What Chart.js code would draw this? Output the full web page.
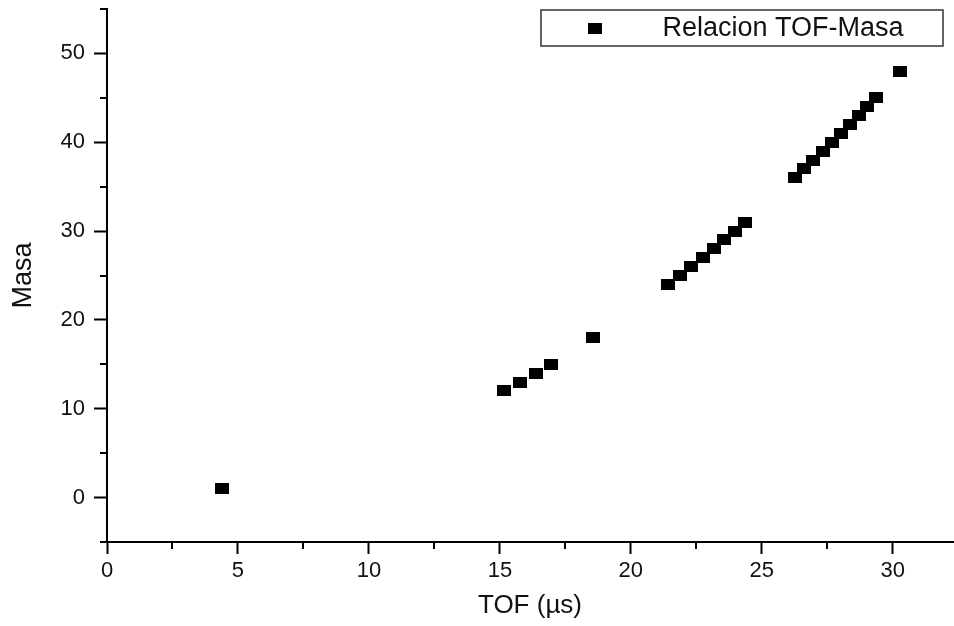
<!DOCTYPE html>
<html>
<head>
<meta charset="utf-8">
<script src="https://cdn.jsdelivr.net/npm/chart.js@4.4.0/dist/chart.umd.min.js"></script>
<style>
  html, body { margin: 0; padding: 0; background: #fff; }
  #wrap { width: 954px; height: 626px; }
</style>
</head>
<body>
<div id="wrap"><canvas id="chart"></canvas></div>
<script>
// values
const seriesLabel = 'Relacion TOF-Masa';
const tof = [4.38, 15.16, 15.77, 16.37, 16.95, 18.57,
  21.43, 21.88, 22.31, 22.76, 23.18, 23.57, 23.97, 24.37,
  26.25, 26.61, 26.97, 27.33, 27.67, 28.01, 28.36, 28.70, 29.03, 29.36,
  30.27];
const masa = [1, 12, 13, 14, 15, 18,
  24, 25, 26, 27, 28, 29, 30, 31,
  36, 37, 38, 39, 40, 41, 42, 43, 44, 45,
  48];

const xMajor = [0, 5, 10, 15, 20, 25, 30];
const xMinor = [2.5, 7.5, 12.5, 17.5, 22.5, 27.5];
const yMajor = [0, 10, 20, 30, 40, 50];
const yMinor = [-5, 5, 15, 25, 35, 45, 55];

const FONT = '"Liberation Sans", Arial, sans-serif';

// square-ish marker used by both the points and the legend
const marker = document.createElement('canvas');
marker.width = 14;
marker.height = 11;
const mctx = marker.getContext('2d');
mctx.fillStyle = '#000';
mctx.fillRect(0, 0, 14, 11);

const points = tof.map((t, i) => ({ x: t, y: masa[i] }));

function setTicks(major, minor) {
  return function (scale) {
    scale.ticks = major.concat(minor).sort((a, b) => a - b).map(v => ({ value: v }));
  };
}

const minorTicks = {
  id: 'minorTicks',
  afterDraw(chart) {
    const ctx = chart.ctx;
    const xs = chart.scales.x, ys = chart.scales.y;
    const area = chart.chartArea;
    ctx.save();
    ctx.strokeStyle = '#000';
    ctx.lineWidth = 2;
    ctx.beginPath();
    xMinor.forEach(v => {
      const px = Math.round(xs.getPixelForValue(v));
      ctx.moveTo(px, area.bottom);
      ctx.lineTo(px, area.bottom + 7);
    });
    yMinor.forEach(v => {
      const py = Math.round(ys.getPixelForValue(v));
      ctx.moveTo(area.left - 7, py);
      ctx.lineTo(area.left, py);
    });
    ctx.stroke();
    ctx.restore();
  }
};

const boxLegend = {
  id: 'boxLegend',
  afterDraw(chart) {
    const ctx = chart.ctx;
    ctx.save();
    ctx.strokeStyle = '#333';
    ctx.lineWidth = 1.5;
    ctx.strokeRect(541, 10, 402, 36);
    ctx.drawImage(marker, 588, 23);
    ctx.fillStyle = '#111';
    ctx.font = '27px ' + FONT;
    ctx.textAlign = 'center';
    ctx.textBaseline = 'middle';
    ctx.fillText(chart.data.datasets[0].label, 783, 29);
    ctx.restore();
  }
};

new Chart(document.getElementById('chart'), {
  type: 'scatter',
  data: {
    datasets: [{
      label: seriesLabel,
      data: points,
      pointStyle: marker,
      pointRadius: 7,
      backgroundColor: '#000',
      borderColor: '#000'
    }]
  },
  options: {
    responsive: true,
    maintainAspectRatio: false,
    animation: false,
    layout: { autoPadding: false, padding: { top: 9, right: 1, left: 0, bottom: 0 } },
    plugins: {
      legend: { display: false },
      tooltip: { enabled: false }
    },
    scales: {
      x: {
        type: 'linear',
        min: 0,
        max: 32.3,
        afterBuildTicks: setTicks(xMajor, xMinor),
        afterFit: s => { s.height = 84; s.paddingLeft = 0; s.paddingRight = 0; },
        border: { display: true, color: '#000', width: 2 },
        grid: {
          drawOnChartArea: false,
          drawTicks: true,
          tickLength: 12,
          tickWidth: 2,
          tickColor: c => xMajor.includes(c.tick.value) ? '#000' : 'rgba(0,0,0,0)'
        },
        ticks: {
          color: '#111',
          padding: 4,
          maxRotation: 0,
          autoSkip: false,
          font: { family: FONT, size: 22 },
          callback: v => xMajor.includes(v) ? String(v) : ''
        },
        title: {
          display: true,
          text: 'TOF (µs)',
          color: '#111',
          font: { family: FONT, size: 26 },
          padding: { top: 0, bottom: 5 }
        }
      },
      y: {
        type: 'linear',
        min: -5,
        max: 55,
        afterBuildTicks: setTicks(yMajor, yMinor),
        afterFit: s => { s.width = 107; s.paddingTop = 0; s.paddingBottom = 0; },
        border: { display: true, color: '#000', width: 2 },
        grid: {
          drawOnChartArea: false,
          drawTicks: true,
          tickLength: 13,
          tickWidth: 2,
          tickColor: c => yMajor.includes(c.tick.value) ? '#000' : 'rgba(0,0,0,0)'
        },
        ticks: {
          color: '#111',
          padding: 9,
          autoSkip: false,
          font: { family: FONT, size: 22 },
          callback: v => yMajor.includes(v) ? String(v) : ''
        },
        title: {
          display: true,
          text: 'Masa',
          color: '#111',
          font: { family: '"Liberation Sans Narrow", "Arial Narrow", ' + FONT, size: 27 },
          padding: { top: 7, bottom: 0 }
        }
      }
    }
  },
  plugins: [minorTicks, boxLegend]
});
</script>
</body>
</html>
